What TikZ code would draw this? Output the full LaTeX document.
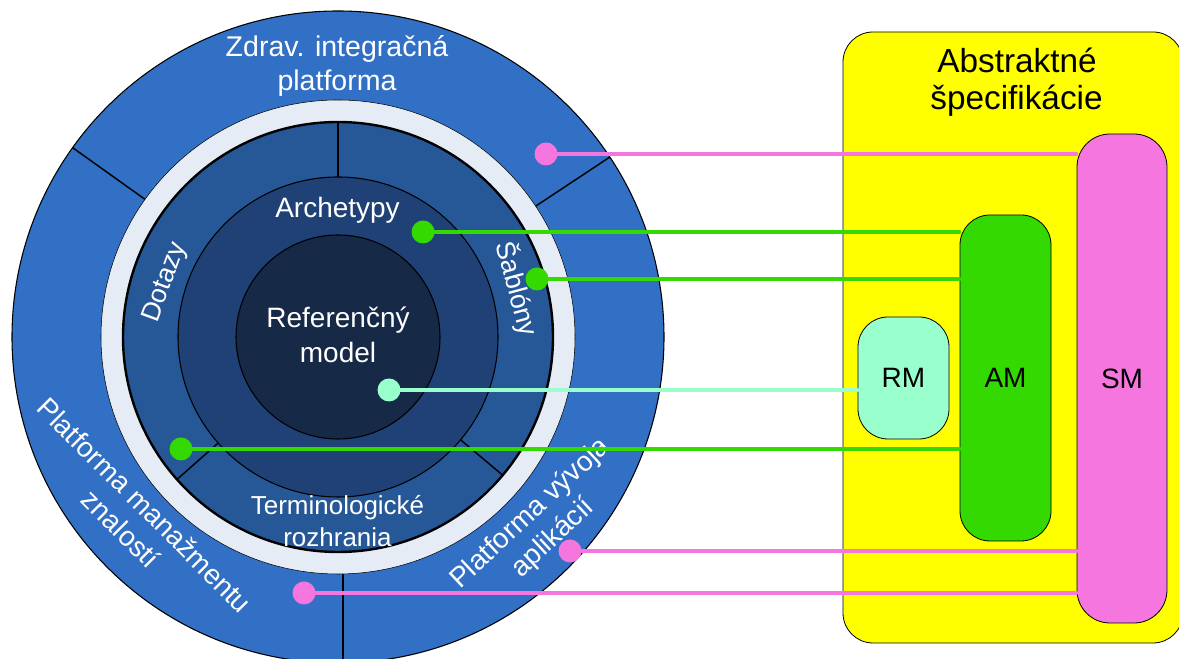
\documentclass[tikz,border=0pt]{standalone}
\usepackage{fontspec}
\setmainfont{Liberation Sans}
\newdimen\pxu \pxu=0.75pt
\definecolor{outerblue}{RGB}{49,112,196}
\definecolor{lightring}{RGB}{230,236,246}
\definecolor{darkring}{RGB}{38,88,152}
\definecolor{midring}{RGB}{31,65,117}
\definecolor{innerdisk}{RGB}{22,41,71}
\definecolor{pinkc}{RGB}{244,118,222}
\definecolor{greenc}{RGB}{51,217,0}
\definecolor{mintc}{RGB}{153,255,204}
\definecolor{specyellow}{RGB}{255,255,0}
\begin{document}
\begin{tikzpicture}[x=0.75pt,y=0.75pt,
  ringline/.style={draw=black,line width=0.8pt},
  sepline/.style={draw=black,line width=1.1pt},
  ringtext/.style={text=white,font=\fontsize{21pt}{25pt}\selectfont,inner sep=0pt},
  dot/.style={circle,inner sep=0pt,minimum size=23\pxu},
  link/.style={line width=2.4pt,line cap=round},
  box/.style={draw=black,line width=0.6pt,rounded corners=30\pxu,inner sep=0pt,
    font=\fontsize{21pt}{25pt}\selectfont}
]
\useasboundingbox (0,0) rectangle (1179,659);
\clip (0,0) rectangle (1179,659);

% concentric rings
\begin{scope}[shift={(338,322)}]
  \filldraw[fill=outerblue,ringline] (0,0) circle[radius=326];
  \draw[sepline] (144.5:225) -- (144.5:326);
  \draw[sepline] (33.5:225) -- (33.5:326);
  \draw[sepline] (5,-225) -- (5,-330);
  \filldraw[fill=lightring,draw=black,line width=0.4pt] (0,0) circle[radius=237];
  \filldraw[fill=darkring,draw=black,line width=1.8pt] (0,0) circle[radius=215];
  \draw[sepline] (90:150) -- (90:215);
  \draw[sepline] (-40:150) -- (-40:215);
  \draw[sepline] (221.5:150) -- (221.5:215);
  \filldraw[fill=midring,ringline] (0,0) circle[radius=160];
  \filldraw[fill=innerdisk,ringline] (0,0) circle[radius=102];
\end{scope}

% ring labels
\node[ringtext,anchor=base,font=\fontsize{21.4pt}{25pt}\selectfont] (zdrav1) at (337,602) {Zdrav. integračná};
\node[ringtext,anchor=base,font=\fontsize{21.4pt}{25pt}\selectfont] (zdrav2) at (337,568) {platforma};
\node[ringtext,anchor=base] (arch) at (337.5,441) {Archetypy};
\node[ringtext,anchor=base] (ref1) at (338,331) {Referenčný};
\node[ringtext,anchor=base] (ref2) at (338,296) {model};
\node[ringtext,anchor=base,font=\fontsize{19.5pt}{24pt}\selectfont] (term1) at (337.5,144) {Terminologické};
\node[ringtext,anchor=base,font=\fontsize{19.5pt}{24pt}\selectfont] (term2) at (337.5,112) {rozhrania};
\node[ringtext,rotate=70,font=\fontsize{20pt}{24pt}\selectfont] (dotazy) at (165.5,376.5) {Dotazy};
\node[ringtext,rotate=-75,font=\fontsize{20pt}{24pt}\selectfont] (sablony) at (517,370) {Šablóny};
\node[ringtext,rotate=-45,align=center,font=\fontsize{21pt}{25pt}\selectfont] (pmz) at (133,142) {Platforma manažmentu\\znalostí};
\node[ringtext,rotate=43,align=center,font=\fontsize{21pt}{25pt}\selectfont] (pva) at (542,133) {Platforma vývoja\\aplikácií};

% abstract specifications
\node[box,fill=specyellow,minimum width=340\pxu,minimum height=611\pxu] (spec) at (1013,321.5) {};
\node[anchor=base,inner sep=0pt,font=\fontsize{25pt}{30pt}\selectfont] (spec1) at (1017,586) {Abstraktné};
\node[anchor=base,inner sep=0pt,font=\fontsize{25pt}{30pt}\selectfont] (spec2) at (1016.5,549) {špecifikácie};
\node[box,fill=pinkc,rounded corners=33\pxu,minimum width=90\pxu,minimum height=489\pxu] (sm) at (1122,280.5) {SM};
\node[box,fill=greenc,minimum width=91\pxu,minimum height=326\pxu] (am) at (1005.5,281) {AM};
\node[box,fill=mintc,minimum width=91\pxu,minimum height=122\pxu] (rm) at (903.5,281) {RM};

% anchor dots
\coordinate (p1c) at (546,505);
\coordinate (g1c) at (423,427);
\coordinate (g2c) at (537,380);
\coordinate (m1c) at (389,269);
\coordinate (g3c) at (181,210);
\coordinate (p2c) at (570,108);
\coordinate (p3c) at (304,66);

% links
\draw[link,pinkc] (p1c) -- (p1c -| sm.west);
\draw[link,greenc] (g1c) -- (g1c -| am.west);
\draw[link,greenc] (g2c) -- (g2c -| am.west);
\draw[link,mintc] (m1c) -- (m1c -| rm.west);
\draw[link,greenc] (g3c) -- (g3c -| am.west);
\draw[link,pinkc] (p2c) -- (p2c -| sm.west);
\draw[link,pinkc] (p3c) -- (p3c -| sm.west);

\node[dot,fill=pinkc] (p1) at (p1c) {};
\node[dot,fill=greenc] (g1) at (g1c) {};
\node[dot,fill=greenc] (g2) at (g2c) {};
\node[dot,fill=mintc] (m1) at (m1c) {};
\node[dot,fill=greenc] (g3) at (g3c) {};
\node[dot,fill=pinkc] (p2) at (p2c) {};
\node[dot,fill=pinkc] (p3) at (p3c) {};
\end{tikzpicture}
\end{document}
